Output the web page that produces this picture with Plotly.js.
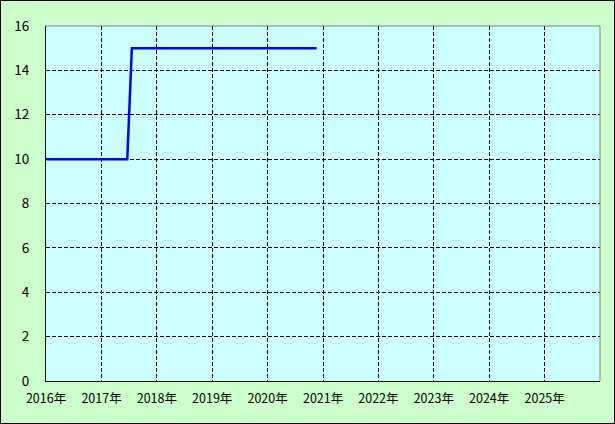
<!DOCTYPE html>
<html><head><meta charset="utf-8">
<script src="https://cdn.plot.ly/plotly-3.0.1.min.js"></script>
<style>html,body{margin:0;padding:0;background:#ccffcc;}#c{width:615px;height:424px;}</style>
</head><body><div id="c"></div>
<script>
const dates = ['2016-01-01', '2017-06-20', '2017-07-20', '2020-11-20'];
const values = [10, 10, 15, 15];
const xTickVals = ['2016-01-01','2017-01-01','2018-01-01','2019-01-01','2020-01-01','2021-01-01','2022-01-01','2023-01-01','2024-01-01','2025-01-01'];
const xTickText = ['2016年','2017年','2018年','2019年','2020年','2021年','2022年','2023年','2024年','2025年'];
const yTickVals = [0,2,4,6,8,10,12,14,16];

const W = 615, H = 424, L = 46, R = 15, T = 26, B = 43;
const pw = W - L - R, ph = H - T - B;
const px = p => (p - L) / pw;
const py = p => (H - B - p) / ph;

Plotly.newPlot('c', [{
  x: dates, y: values, type: 'scatter', mode: 'lines',
  line: {color: '#0000ff', width: 2.5}, hoverinfo: 'skip'
}], {
  width: W, height: H,
  margin: {l: L, r: R, t: T, b: B, pad: 0},
  paper_bgcolor: '#ccffcc', plot_bgcolor: '#ccffff',
  font: {family: '"Noto Sans CJK JP", "DejaVu Sans", sans-serif', size: 12.5, color: '#000'},
  showlegend: false,
  xaxis: {
    type: 'date', range: ['2016-01-01', '2026-01-01'], fixedrange: true,
    tickvals: xTickVals, ticktext: xTickText, ticks: '', ticklabelstandoff: 6,
    showgrid: true, gridcolor: '#000', griddash: '4px,2px', gridwidth: 1,
    showline: true, linecolor: '#000', linewidth: 1, zeroline: false
  },
  yaxis: {
    range: [0, 16], fixedrange: true,
    tickvals: yTickVals, ticks: '', ticklabelstandoff: 13,
    tickfont: {size: 13.5},
    showgrid: true, gridcolor: '#000', griddash: '4px,2px', gridwidth: 1,
    showline: true, linecolor: '#000', linewidth: 1, zeroline: false
  },
  shapes: [
    {type: 'line', xref: 'paper', yref: 'paper', x0: 0, x1: 1, y0: 1, y1: 1, line: {color: '#808080', width: 1}},
    {type: 'line', xref: 'paper', yref: 'paper', x0: 1, x1: 1, y0: 0, y1: 1, line: {color: '#808080', width: 1}},
    {type: 'rect', xref: 'paper', yref: 'paper', x0: px(0.5), x1: px(614.5), y0: py(423.5), y1: py(0.5), line: {color: '#000', width: 1}, fillcolor: 'rgba(0,0,0,0)'}
  ]
}, {staticPlot: true});
</script></body></html>
